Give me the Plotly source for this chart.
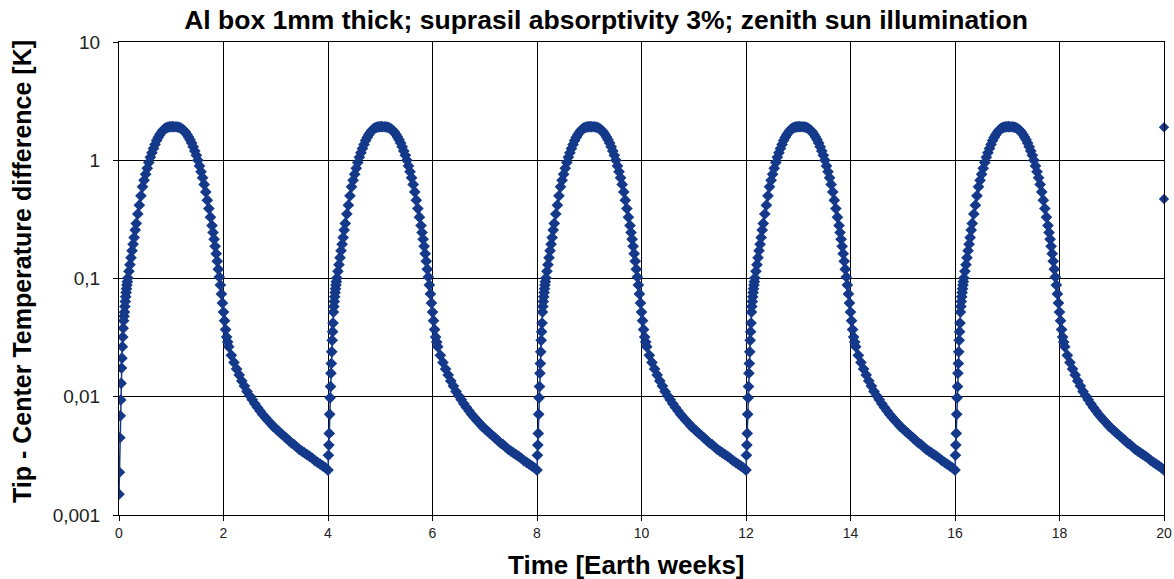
import plotly.graph_objects as go

# ---- data ----
cycle_starts = [0, 4, 8, 12, 16]

# first cycle starts from a lower value
first_rise_t = [0.000, 0.008, 0.016, 0.024, 0.032, 0.040, 0.048, 0.056, 0.064, 0.072, 0.080, 0.088, 0.096]
first_rise_y = [0.0015, 0.0023, 0.0045, 0.0069, 0.0094, 0.013, 0.0175, 0.0212, 0.0265, 0.032, 0.038, 0.044, 0.048]

# later cycles start from the end of the previous tail
next_rise_t = [0.008, 0.016, 0.024, 0.032, 0.040, 0.048, 0.056, 0.064, 0.072, 0.080, 0.088, 0.096]
next_rise_y = [0.0032, 0.0039, 0.0049, 0.0071, 0.0098, 0.0122, 0.0158, 0.0191, 0.024, 0.030, 0.0355, 0.042]

# shared part of each 4-week cycle
body_t = [
    0.104, 0.112, 0.120, 0.128, 0.136, 0.144, 0.152, 0.160, 0.170,
    0.19, 0.21, 0.23, 0.25, 0.27, 0.29, 0.31, 0.33,
    0.36, 0.39, 0.42, 0.45, 0.48, 0.51, 0.54, 0.57, 0.60, 0.63, 0.66, 0.69,
    0.72, 0.75, 0.78, 0.81, 0.84, 0.87, 0.90, 0.93, 0.96, 0.99, 1.02, 1.05,
    1.09, 1.12, 1.15, 1.18, 1.21, 1.24, 1.27, 1.30, 1.33, 1.36, 1.39, 1.42,
    1.45, 1.48, 1.51, 1.54, 1.57, 1.60, 1.63, 1.66, 1.69, 1.72, 1.75, 1.78,
    1.80, 1.82, 1.84, 1.86, 1.88, 1.90, 1.92, 1.94, 1.96, 1.98, 2.00, 2.02,
    2.04, 2.06, 2.08, 2.10,
    2.15, 2.20, 2.25, 2.30, 2.35, 2.40, 2.45, 2.50, 2.55, 2.60, 2.65, 2.70,
    2.75, 2.80, 2.85, 2.90, 2.95, 3.00, 3.05, 3.10, 3.15, 3.20, 3.25, 3.30,
    3.35, 3.40, 3.45, 3.50, 3.55, 3.60, 3.65, 3.70, 3.75, 3.80, 3.85, 3.90,
    3.95, 4.00,
]
body_y = [
    0.052, 0.058, 0.064, 0.070, 0.076, 0.082, 0.088, 0.094, 0.101,
    0.115, 0.131, 0.150, 0.172, 0.195, 0.222, 0.257, 0.292,
    0.351, 0.417, 0.50, 0.596, 0.676, 0.762, 0.855, 0.955, 1.06, 1.16, 1.26, 1.36,
    1.47, 1.56, 1.64, 1.72, 1.79, 1.84, 1.875, 1.90, 1.915, 1.92, 1.925, 1.92,
    1.92, 1.91, 1.895, 1.87, 1.835, 1.79, 1.73, 1.655, 1.575, 1.49, 1.40, 1.30,
    1.20, 1.10, 1.00, 0.895, 0.80, 0.71, 0.625, 0.54, 0.46, 0.39, 0.33, 0.28,
    0.245, 0.215, 0.187, 0.162, 0.140, 0.120, 0.103, 0.088, 0.074, 0.062, 0.052, 0.044,
    0.037, 0.032, 0.029, 0.0265,
    0.0224, 0.0195, 0.0172, 0.0153, 0.0136, 0.0123, 0.0111, 0.0102, 0.00944, 0.00871, 0.00813, 0.00759,
    0.00708, 0.00668, 0.00631, 0.00596, 0.00562, 0.00537, 0.00513, 0.0049, 0.00468, 0.00447, 0.00427, 0.00407,
    0.00394, 0.00376, 0.00359, 0.00347, 0.00335, 0.00324, 0.00313, 0.00302, 0.00288, 0.00279, 0.00269, 0.0026,
    0.00251, 0.0024,
]

# two isolated points at the right edge
extra_x = [20, 20]
extra_y = [1.9, 0.47]

y_tickvals = [0.001, 0.01, 0.1, 1, 10]
y_ticktext = ["0,001", "0,01", "0,1", "1", "10"]
x_tickvals = [0, 2, 4, 6, 8, 10, 12, 14, 16, 18, 20]

title_text = "Al box 1mm thick; suprasil absorptivity 3%; zenith sun illumination"
x_title = "Time [Earth weeks]"
y_title = "Tip - Center Temperature difference [K]"

# ---- assemble series ----
xs, ys = [], []
for i, s in enumerate(cycle_starts):
    rt, ry = (first_rise_t, first_rise_y) if i == 0 else (next_rise_t, next_rise_y)
    for t, v in zip(rt + body_t, ry + body_y):
        xs.append(s + t)
        ys.append(v)

color = "#14398A"
W, H = 1174, 579
ml, mr, mt, mb = 119, 10, 42, 64

fig = go.Figure()
fig.add_trace(go.Scatter(
    x=xs, y=ys, mode="lines+markers",
    line=dict(color=color, width=1.5),
    marker=dict(symbol="diamond", size=9, color=color),
    showlegend=False, hoverinfo="skip",
))
fig.add_trace(go.Scatter(
    x=extra_x, y=extra_y, mode="markers",
    marker=dict(symbol="diamond", size=8, color=color),
    showlegend=False, hoverinfo="skip", cliponaxis=False,
))

font_family = "Liberation Sans, Arial, sans-serif"
fig.update_layout(
    width=W, height=H,
    margin=dict(l=ml, r=mr, t=mt, b=mb, autoexpand=False),
    paper_bgcolor="white", plot_bgcolor="white",
    font=dict(family=font_family, color="black"),
    xaxis=dict(
        range=[0, 20], tickvals=x_tickvals, ticktext=[str(v) for v in x_tickvals],
        showgrid=True, gridcolor="black", gridwidth=1,
        showline=True, linecolor="black", linewidth=1, mirror=True,
        ticks="outside", ticklen=5, tickcolor="black", automargin=False,
        tickfont=dict(size=14, color="#222222"), zeroline=False,
    ),
    yaxis=dict(
        type="log", range=[-3, 1], tickvals=y_tickvals, ticktext=y_ticktext,
        showgrid=True, gridcolor="black", gridwidth=1,
        showline=True, linecolor="black", linewidth=1, mirror=True,
        ticks="outside", ticklen=5, tickcolor="black", automargin=False,
        ticklabelstandoff=9,
        tickfont=dict(size=19, color="#222222"), zeroline=False,
    ),
    title=dict(
        text="<b>" + title_text + "</b>",
        font=dict(size=26.5, family=font_family, color="black"),
        x=(606 - ml) / (W - ml - mr), xref="paper", xanchor="center",
        y=1 - 20 / H, yref="container", yanchor="middle",
    ),
    annotations=[
        dict(text="<b>" + x_title + "</b>", xref="paper", yref="paper",
             x=(626 - ml) / (W - ml - mr), y=-(565 - (H - mb)) / (H - mt - mb),
             xanchor="center", yanchor="middle", showarrow=False,
             font=dict(size=26, family=font_family, color="black")),
        dict(text="<b>" + y_title + "</b>", xref="paper", yref="paper",
             x=-(ml - 22) / (W - ml - mr), y=1 - (272 - mt) / (H - mt - mb),
             xanchor="center", yanchor="middle", textangle=-90, showarrow=False,
             font=dict(size=25, family=font_family, color="black")),
    ],
)

fig.write_html("out.html")
